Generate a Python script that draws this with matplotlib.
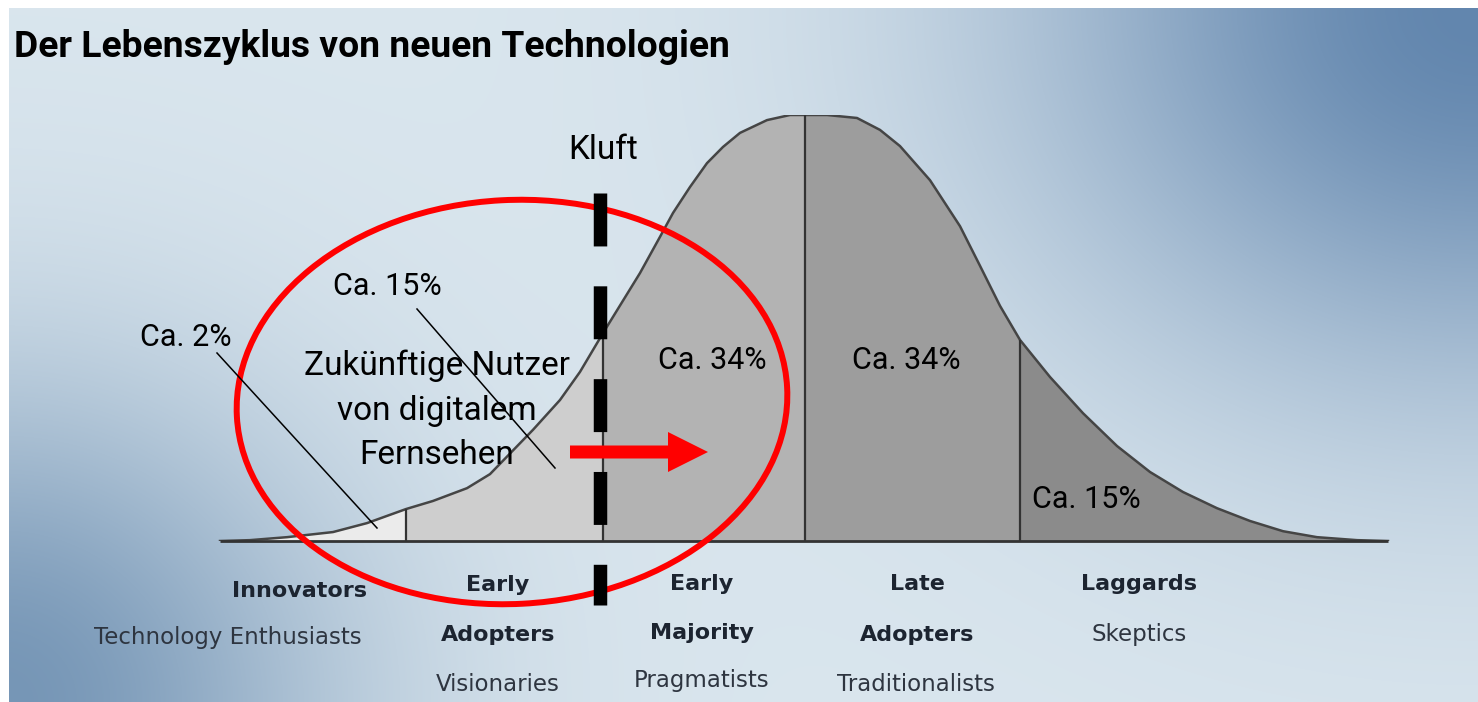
import numpy as np
import matplotlib
matplotlib.use('Agg')
import matplotlib.pyplot as plt
from matplotlib.patches import Ellipse, FancyArrow

# adoption curve (position along the time axis, height in % of peak)
curve_x = [220, 250, 287, 333, 367, 406, 433, 467, 490, 533, 560, 580, 603, 640, 660, 673,
           690, 707, 723, 740, 767, 790, 805, 827, 857, 880, 900, 930, 960, 980, 1000, 1020,
           1050, 1083, 1117, 1150, 1183, 1217, 1250, 1283, 1317, 1357, 1388]
curve_h = [0, 0.2, 0.9, 2.1, 4.2, 7.5, 9.4, 12.4, 15.7, 26.1, 33.1, 39.7, 48.8, 62.9, 71.4, 77.0,
           83.1, 88.7, 92.5, 95.8, 98.8, 100, 100, 100, 99.3, 96.5, 92.7, 84.7, 73.9, 64.6, 55.2, 47.2,
           38.5, 30.0, 22.3, 16.2, 11.5, 7.7, 4.7, 2.3, 0.9, 0.2, 0]
segment_edges = [220, 406, 603, 805, 1020, 1388]
segment_colors = ['#ebebeb', '#cecece', '#b3b3b3', '#9d9d9d', '#8b8b8b']

groups = [['Innovators'], ['Early', 'Adopters'], ['Early', 'Majority'], ['Late', 'Adopters'], ['Laggards']]
roles = ['Technology Enthusiasts', 'Visionaries', 'Pragmatists', 'Traditionalists', 'Skeptics']
shares = ['Ca. 2%', 'Ca. 15%', 'Ca. 34%', 'Ca. 34%', 'Ca. 15%']
callout = ['Zukünftige Nutzer', 'von digitalem', 'Fernsehen']

W, H = 1478, 702
fig = plt.figure(figsize=(W / 100, H / 100), dpi=100)
fig.patch.set_facecolor('white')

# background gradient
bg = fig.add_axes([0, 0, 1, 1])
bg.set_xlim(0, W)
bg.set_ylim(H, 0)
bg.axis('off')
X, Y = np.meshgrid(np.arange(9, W) + 0.5, np.arange(8, H) + 0.5)
base = np.array([218, 230, 238]) / 255
dark1 = np.array([98, 134, 174]) / 255
dark2 = np.array([118, 150, 182]) / 255
w1 = np.exp(-(((W - X) / 450) ** 2 + ((Y - 8) / 380) ** 2))
w2 = np.exp(-((X / 340) ** 2 + ((H - Y) / 320) ** 2))
img = base[None, None, :] + w1[..., None] * (dark1 - base) + w2[..., None] * (dark2 - base)
bg.imshow(np.clip(img, 0, 1), extent=(9, W, H, 8), aspect='auto', interpolation='bilinear')

# curve
ax = fig.add_axes([0, (H - 541) / H, 1, (541 - 115) / H])
ax.set_xlim(0, W)
ax.set_ylim(0, 100)
ax.axis('off')
ax.patch.set_alpha(0)
x = np.array(curve_x)
h = np.array(curve_h)
for i, col in enumerate(segment_colors):
    m = (x >= segment_edges[i]) & (x <= segment_edges[i + 1])
    ax.fill_between(x[m], 0, h[m], color=col, lw=0)
ax.plot(x, h, color='#454545', lw=1.8)
for b in segment_edges[1:-1]:
    ax.vlines(b, 0, h[x == b][0], color='#333333', lw=1.6)
ax.hlines(0, segment_edges[0], segment_edges[-1], color='#333333', lw=2, clip_on=False)

# overlay: labels, gap, ellipse, arrow
top = fig.add_axes([0, 0, 1, 1])
top.set_xlim(0, W)
top.set_ylim(H, 0)
top.axis('off')
top.patch.set_alpha(0)

narrow = ['Roboto', 'DejaVu Sans']
top.text(14, 57, 'Der Lebenszyklus von neuen Technologien', fontsize=26.8, fontweight='bold',
         family=narrow, va='baseline', ha='left')
top.text(603, 159, 'Kluft', fontsize=24, family=narrow, va='baseline', ha='center')

share_pos = [(140, 346), (333, 295), (658, 369), (852, 369), (1032, 508)]
for s, (px, py) in zip(shares, share_pos):
    top.text(px, py, s, fontsize=22, family=narrow, va='baseline', ha='left')
top.plot([217, 377], [353, 528], color='black', lw=1.1)
top.plot([417, 555], [309, 468], color='black', lw=1.1)

for line, ly in zip(callout, [375, 420, 464]):
    top.text(437, ly, line, fontsize=24, family=narrow, va='baseline', ha='center')

top.plot([600, 600], [193, 605], color='black', lw=9.7, dashes=(3.93, 2.96),
         solid_capstyle='butt', dash_capstyle='butt')

top.add_patch(Ellipse((512, 402), 551, 404, angle=-3, fill=False, ec='#ff0000', lw=4.3))
top.add_patch(FancyArrow(570, 452, 138, 0, width=13, head_width=40, head_length=40,
                         length_includes_head=True, color='#ff0000', lw=0))

group_x = [299, 498, 702, 917, 1139]
group_y = [[597], [591, 641], [590, 639], [590, 641], [590]]
role_x = [228, 498, 702, 916, 1139]
role_y = [644, 691, 687, 691, 641]
for g, gx, gys in zip(groups, group_x, group_y):
    for line, gy in zip(g, gys):
        top.text(gx, gy, line, fontsize=16, fontweight='bold', color='#1c2430',
                 family='DejaVu Sans', va='baseline', ha='center')
for r, rx, ry in zip(roles, role_x, role_y):
    top.text(rx, ry, r, fontsize=16.5, color='#2e3540', family='DejaVu Sans',
             va='baseline', ha='center')

fig.savefig('out.png', dpi=100)
